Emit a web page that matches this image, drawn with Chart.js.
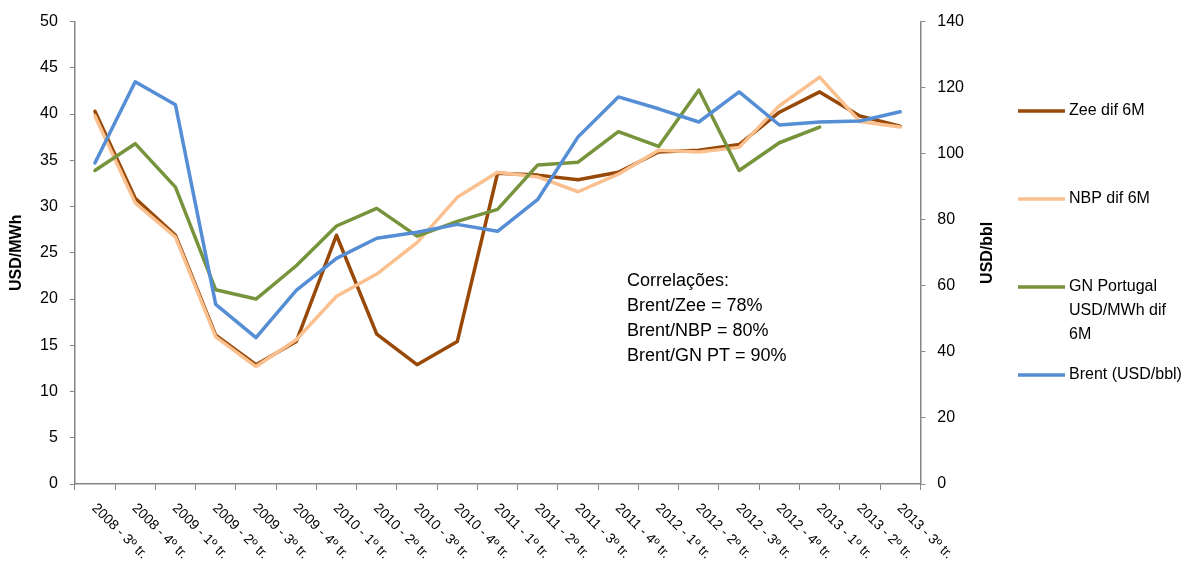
<!DOCTYPE html>
<html>
<head>
<meta charset="utf-8">
<script src="https://cdn.jsdelivr.net/npm/chart.js@4.4.0/dist/chart.umd.min.js"></script>
<style>
  html, body { margin: 0; padding: 0; background: #fff; }
  #wrap { width: 1189px; height: 572px; }
</style>
</head>
<body>
<div id="wrap"><canvas id="grafico"></canvas></div>
<script>
// Trimestres
const trimestres = ['2008 - 3º tr.', '2008 - 4º tr.', '2009 - 1º tr.', '2009 - 2º tr.', '2009 - 3º tr.', '2009 - 4º tr.',
  '2010 - 1º tr.', '2010 - 2º tr.', '2010 - 3º tr.', '2010 - 4º tr.', '2011 - 1º tr.', '2011 - 2º tr.', '2011 - 3º tr.',
  '2011 - 4º tr.', '2012 - 1º tr.', '2012 - 2º tr.', '2012 - 3º tr.', '2012 - 4º tr.', '2013 - 1º tr.', '2013 - 2º tr.', '2013 - 3º tr.'];
// USD/MWh (eixo esquerdo)
const zee = [40.3, 30.9, 26.9, 16.1, 12.9, 15.4, 26.9, 16.2, 12.9, 15.4, 33.6, 33.4, 32.9, 33.7, 35.9, 36.1, 36.7, 40.2, 42.4, 39.8, 38.7];
const nbp = [39.8, 30.4, 26.7, 15.9, 12.7, 15.6, 20.3, 22.7, 26.1, 31.0, 33.7, 33.2, 31.6, 33.5, 36.1, 35.9, 36.4, 40.9, 44.0, 39.2, 38.6];
const gnPortugal = [33.9, 36.8, 32.1, 21.0, 20.0, 23.6, 27.9, 29.8, 26.8, 28.4, 29.7, 34.5, 34.8, 38.1, 36.5, 42.6, 33.9, 36.9, 38.6, null, null];
// USD/bbl (eixo direito)
const brent = [97.2, 121.8, 114.8, 54.4, 44.3, 58.6, 68.3, 74.4, 76.2, 78.6, 76.5, 86.2, 105.1, 117.2, 113.6, 109.6, 118.7, 108.7, 109.6, 109.9, 112.7];

const correlacoes = ['Correlações:', 'Brent/Zee = 78%', 'Brent/NBP = 80%', 'Brent/GN PT = 90%'];
const legendas = [['Zee dif 6M'], ['NBP dif 6M'], ['GN Portugal', 'USD/MWh dif', '6M'], ['Brent (USD/bbl)']];

const fonte = '"Liberation Sans", Arial, sans-serif';
const corEixo = '#868686';

// Textos extra: legenda, eixos, rótulos rodados e correlações
const extras = {
    id: 'extras',
    afterDraw(chart) {
        const ctx = chart.ctx;
        const area = chart.chartArea;
        const x = chart.scales.x;
        ctx.save();
        ctx.fillStyle = '#000';

        // rótulos do eixo x (rodados 45º para baixo)
        ctx.font = '14px ' + fonte;
        ctx.textAlign = 'left';
        ctx.textBaseline = 'top';
        trimestres.forEach((t, i) => {
            ctx.save();
            ctx.translate(x.getPixelForValue(i) + 4, area.bottom + 17);
            ctx.rotate(Math.PI / 4);
            ctx.fillText(t, 0, 0);
            ctx.restore();
        });

        // títulos dos eixos
        ctx.font = 'bold 16px ' + fonte;
        ctx.textAlign = 'center';
        ctx.textBaseline = 'middle';
        ctx.save();
        ctx.translate(17, (area.top + area.bottom) / 2);
        ctx.rotate(-Math.PI / 2);
        ctx.fillText('USD/MWh', 0, 0);
        ctx.restore();
        ctx.save();
        ctx.translate(988, (area.top + area.bottom) / 2);
        ctx.rotate(-Math.PI / 2);
        ctx.fillText('USD/bbl', 0, 0);
        ctx.restore();

        // correlações
        ctx.font = '18px ' + fonte;
        ctx.textAlign = 'left';
        correlacoes.forEach((t, i) => {
            ctx.fillText(t, 627, 281 + i * 25);
        });

        // legenda
        const ys = [111, 199, 287, 375];
        ctx.font = '16px ' + fonte;
        chart.data.datasets.forEach((ds, i) => {
            ctx.strokeStyle = ds.borderColor;
            ctx.lineWidth = 3.5;
            ctx.beginPath();
            ctx.moveTo(1018, ys[i]);
            ctx.lineTo(1065, ys[i]);
            ctx.stroke();
            legendas[i].forEach((l, j) => {
                ctx.fillText(l, 1069, ys[i] + j * 24);
            });
        });
        ctx.restore();
    }
};

const grafico = new Chart(document.getElementById('grafico'), {
    type: 'line',
    data: {
        labels: trimestres,
        datasets: [
            { label: 'Zee dif 6M', data: zee, borderColor: '#984807', yAxisID: 'y', order: 3 },
            { label: 'NBP dif 6M', data: nbp, borderColor: '#FAC090', yAxisID: 'y', order: 2 },
            { label: 'GN Portugal USD/MWh dif 6M', data: gnPortugal, borderColor: '#77933C', yAxisID: 'y', order: 1 },
            { label: 'Brent (USD/bbl)', data: brent, borderColor: '#558ED5', yAxisID: 'y1', order: 0 }
        ]
    },
    options: {
        responsive: true,
        maintainAspectRatio: false,
        animation: false,
        elements: {
            line: { borderWidth: 3.5, tension: 0, borderCapStyle: 'round', borderJoinStyle: 'round' },
            point: { radius: 0 }
        },
        layout: { padding: { left: 28, right: 213, top: 20, bottom: 82 } },
        plugins: {
            legend: { display: false },
            tooltip: { enabled: false }
        },
        scales: {
            x: {
                offset: true,
                grid: { display: true, offset: true, drawOnChartArea: false, tickLength: 6, color: corEixo },
                border: { color: corEixo, width: 1.5 },
                ticks: { display: false }
            },
            y: {
                position: 'left',
                min: 0, max: 50,
                ticks: { stepSize: 5, color: '#000', padding: 12, font: { size: 16, family: fonte } },
                grid: { drawOnChartArea: false, tickLength: 5, color: corEixo },
                border: { color: corEixo, width: 1.5 }
            },
            y1: {
                position: 'right',
                min: 0, max: 140,
                ticks: { stepSize: 20, color: '#000', padding: 12, font: { size: 16, family: fonte } },
                grid: { drawOnChartArea: false, tickLength: 5, color: corEixo },
                border: { color: corEixo, width: 1.5 }
            }
        }
    },
    plugins: [extras]
});
</script>
</body>
</html>
